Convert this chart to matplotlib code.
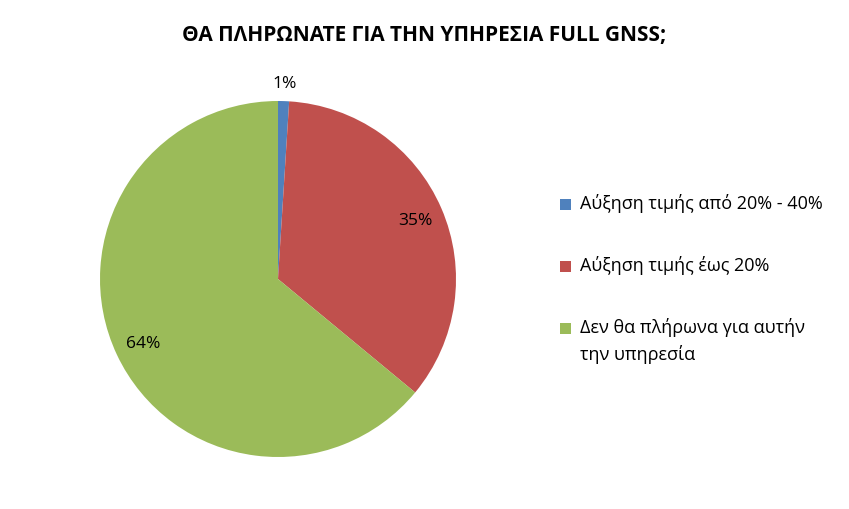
import matplotlib
matplotlib.use("Agg")
import matplotlib.pyplot as plt
from matplotlib.patches import Rectangle
import numpy as np

plt.rcParams['font.family'] = ['Open Sans', 'DejaVu Sans']

title = "ΘΑ ΠΛΗΡΩΝΑΤΕ ΓΙΑ ΤΗΝ ΥΠΗΡΕΣΙΑ FULL GNSS;"
categories = ["Αύξηση τιμής από 20% - 40%",
              "Αύξηση τιμής έως 20%",
              "Δεν θα πλήρωνα για αυτήν\nτην υπηρεσία"]
values = [1, 35, 64]
colors = ["#4F81BD", "#C0504D", "#9BBB59"]

W, H = 849, 510
fig = plt.figure(figsize=(W / 100, H / 100), dpi=100)

cx, cy, R = 278, 280, 178
ax = fig.add_axes([(cx - R) / W, (H - cy - R) / H, 2 * R / W, 2 * R / H])
wedges, texts, autotexts = ax.pie(values, colors=colors, startangle=90, counterclock=False,
                                  autopct=lambda p: f"{p:.0f}%", pctdistance=0.84,
                                  wedgeprops=dict(linewidth=0),
                                  textprops=dict(fontsize=12.5, color="black"))
ax.set_xlim(-1, 1)
ax.set_ylim(-1, 1)
ax.set_aspect('equal')
w0 = wedges[0]
ang = np.deg2rad((w0.theta1 + w0.theta2) / 2)
autotexts[0].set_position((1.1 * np.cos(ang), 1.1 * np.sin(ang)))

fig.text(0.5, 1 - 35 / H, title, ha='center', va='center', fontsize=15, fontweight='bold')

rows_y = [206, 268, 330]
for lab, col, y in zip(categories, colors, rows_y):
    fig.patches.append(Rectangle(((565 - 5) / W, 1 - (y + 5) / H), 11 / W, 11 / H,
                                 transform=fig.transFigure, facecolor=col, edgecolor='none'))
    fig.text(580 / W, 1 - (y - 12) / H, lab, ha='left', va='top', fontsize=13,
             linespacing=1.55)

fig.savefig("out.png", dpi=100)
